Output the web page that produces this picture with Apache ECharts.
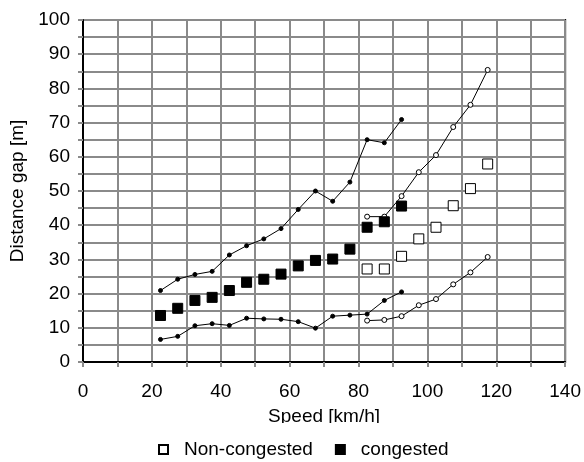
<!DOCTYPE html>
<html>
<head>
<meta charset="utf-8">
<script src="https://cdn.jsdelivr.net/npm/echarts@6/dist/echarts.min.js"></script>
<style>
html, body { margin: 0; padding: 0; background: #fff; }
#chart { width: 584px; height: 462px; }
</style>
</head>
<body>
<div id="chart"></div>
<script>
// congested: speed bins 20-95 km/h
var speedCongested = [22.5, 27.5, 32.5, 37.5, 42.5, 47.5, 52.5, 57.5, 62.5, 67.5, 72.5, 77.5, 82.5, 87.5, 92.5];
var congestedMean  = [13.6, 15.7, 18.0, 18.9, 20.9, 23.3, 24.2, 25.7, 28.1, 29.7, 30.1, 33.0, 39.4, 41.0, 45.6];
var congestedUpper = [20.9, 24.2, 25.6, 26.5, 31.3, 34.0, 36.0, 39.0, 44.6, 50.0, 47.0, 52.6, 65.0, 64.1, 70.9];
var congestedLower = [6.6, 7.5, 10.6, 11.2, 10.7, 12.8, 12.6, 12.5, 11.8, 9.9, 13.4, 13.7, 14.0, 18.0, 20.5];

// non-congested: speed bins 80-120 km/h
var speedFree = [82.5, 87.5, 92.5, 97.5, 102.5, 107.5, 112.5, 117.5];
var freeMean  = [27.2, 27.2, 30.9, 36.0, 39.4, 45.7, 50.7, 57.9];
var freeUpper = [42.5, 42.5, 48.5, 55.5, 60.5, 68.7, 75.2, 85.4];
var freeLower = [12.1, 12.3, 13.4, 16.6, 18.4, 22.7, 26.2, 30.7];

function pairs(xs, ys) {
	var out = [];
	for (var i = 0; i < xs.length; i++) {
		out.push([xs[i], ys[i]]);
	}
	return out;
}

var chart = echarts.init(document.getElementById('chart'));
var gridLine = { show: true, lineStyle: { color: '#8a8a8a', width: 2 } };
var tickStyle = { color: '#8a8a8a', width: 2 };
var font = 'Liberation Sans, Arial, sans-serif';
var fs = 19;

var dotLine = function(name, data, open) {
	return {
		name: name,
		type: 'line',
		data: data,
		symbol: 'circle',
		symbolSize: open ? 5 : 4,
		lineStyle: { color: '#000', width: 1 },
		itemStyle: { color: open ? '#fff' : '#000', borderColor: '#000', borderWidth: 1, opacity: 1 },
		z: 3,
		silent: true
	};
};

var option = {
	animation: false,
	grid: { left: 83, right: 15, top: 20, bottom: 100, show: true, borderColor: '#000', borderWidth: 2 },
	xAxis: {
		type: 'value', min: 0, max: 140, interval: 20,
		name: 'Speed [km/h]', nameLocation: 'middle', nameGap: 45,
		nameTextStyle: { fontFamily: font, fontSize: fs, color: '#000' },
		axisLine: { lineStyle: { color: '#000', width: 2 } },
		axisTick: { show: true, length: 5, lineStyle: tickStyle },
		minorTick: { show: true, splitNumber: 2, length: 5, lineStyle: tickStyle },
		axisLabel: { fontFamily: font, fontSize: fs, color: '#000', margin: 20 },
		splitLine: gridLine,
		minorSplitLine: gridLine
	},
	yAxis: {
		type: 'value', min: 0, max: 100, interval: 10,
		name: 'Distance gap [m]', nameLocation: 'middle', nameGap: 51,
		nameTextStyle: { fontFamily: font, fontSize: fs, color: '#000' },
		axisLine: { lineStyle: { color: '#000', width: 2 } },
		axisTick: { show: true, length: 5, lineStyle: tickStyle },
		minorTick: { show: true, splitNumber: 2, length: 5, lineStyle: tickStyle },
		axisLabel: { fontFamily: font, fontSize: fs, color: '#000', margin: 13 },
		splitLine: gridLine,
		minorSplitLine: gridLine
	},
	legend: {
		data: ['Non-congested', 'congested'],
		bottom: 0, left: 148,
		itemWidth: 9, itemHeight: 9, itemGap: 22,
		backgroundColor: '#fff',
		padding: [17, 10, 3, 10],
		textStyle: { fontFamily: font, fontSize: fs, color: '#000', padding: [0, 0, 0, 11] }
	},
	series: [
		{
			name: 'Non-congested', type: 'scatter', data: pairs(speedFree, freeMean),
			symbol: 'rect', symbolSize: 10,
			itemStyle: { color: '#fff', borderColor: '#000', borderWidth: 1, opacity: 1 }, z: 4
		},
		{
			name: 'congested', type: 'scatter', data: pairs(speedCongested, congestedMean),
			symbol: 'rect', symbolSize: 10,
			itemStyle: { color: '#000', borderColor: '#000', borderWidth: 1, opacity: 1 }, z: 4
		},
		dotLine('congested upper', pairs(speedCongested, congestedUpper), false),
		dotLine('congested lower', pairs(speedCongested, congestedLower), false),
		dotLine('free upper', pairs(speedFree, freeUpper), true),
		dotLine('free lower', pairs(speedFree, freeLower), true)
	]
};

chart.setOption(option);
</script>
</body>
</html>
